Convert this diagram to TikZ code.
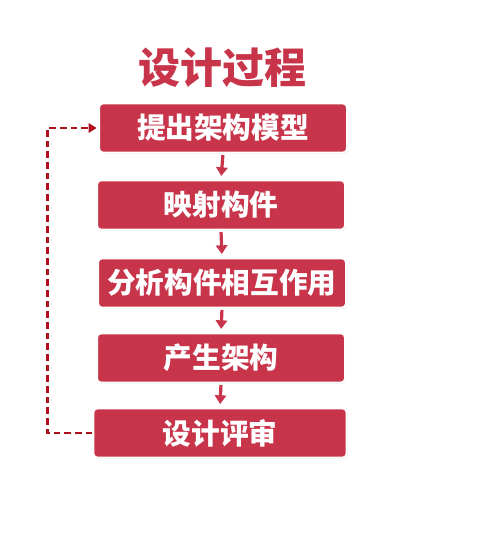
\documentclass[tikz,border=0pt]{standalone}
\usepackage{fontspec}
\usepackage{xcolor}
\usepackage{tikz}
\usetikzlibrary{positioning,arrows.meta,shadows}
\newfontfamily\cjk{Noto Sans CJK SC}
\definecolor{boxred}{HTML}{C8354A}
\definecolor{linered}{HTML}{B0101E}
\tikzset{
  every overlay node/.style={}
}

\begin{document}
\begin{tikzpicture}[x=0.75pt,y=-0.75pt,
							stage/.style = {rectangle, rounded corners=3pt, fill=boxred, draw=white, line width=1.5pt,
							  minimum width=186pt, minimum height=37pt, inner sep=0pt,
							  text=white, font=\cjk\bfseries\fontsize{21.5}{26}\selectfont,
							  drop shadow={shadow xshift=0.8pt, shadow yshift=-0.8pt, opacity=0.25}},
							flow/.style = {draw=boxred, line width=2.4pt, -{Triangle[length=6.5pt,width=8.5pt]},
							  shorten <=1pt, shorten >=2.5pt},
							loop/.style = {draw=linered, line width=2pt, dash pattern=on 5pt off 3pt,
							  -{Triangle[length=6pt,width=7pt]}, shorten >=1pt}]
			\useasboundingbox (0,0) rectangle (500,540);
			\node[text=boxred, font=\cjk\bfseries\fontsize{31.5}{38}\selectfont] (title) at (222,68) {设计过程};
			\node[stage] (s1) at (223,128) {提出架构模型};
			\node[stage] (s2) at (221,205) {映射构件};
			\node[stage] (s3) at (222,283) {分析构件相互作用};
			\node[stage] (s4) at (221,358) {产生架构};
			\node[stage, minimum width=190pt] (s5) at (220,433) {设计评审};
			
			\draw[flow] (s1.south) to (s2.north);
			\draw[flow] (s2.south) to (s3.north);
			\draw[flow] (s3.south) to (s4.north);
			\draw[flow] (s4.south) to (s5.north);
			% review loops back to the first step
			\draw[loop] (s5.west) -- ++(-45,0) |- (s1.west);
		\end{tikzpicture}
\end{document}
